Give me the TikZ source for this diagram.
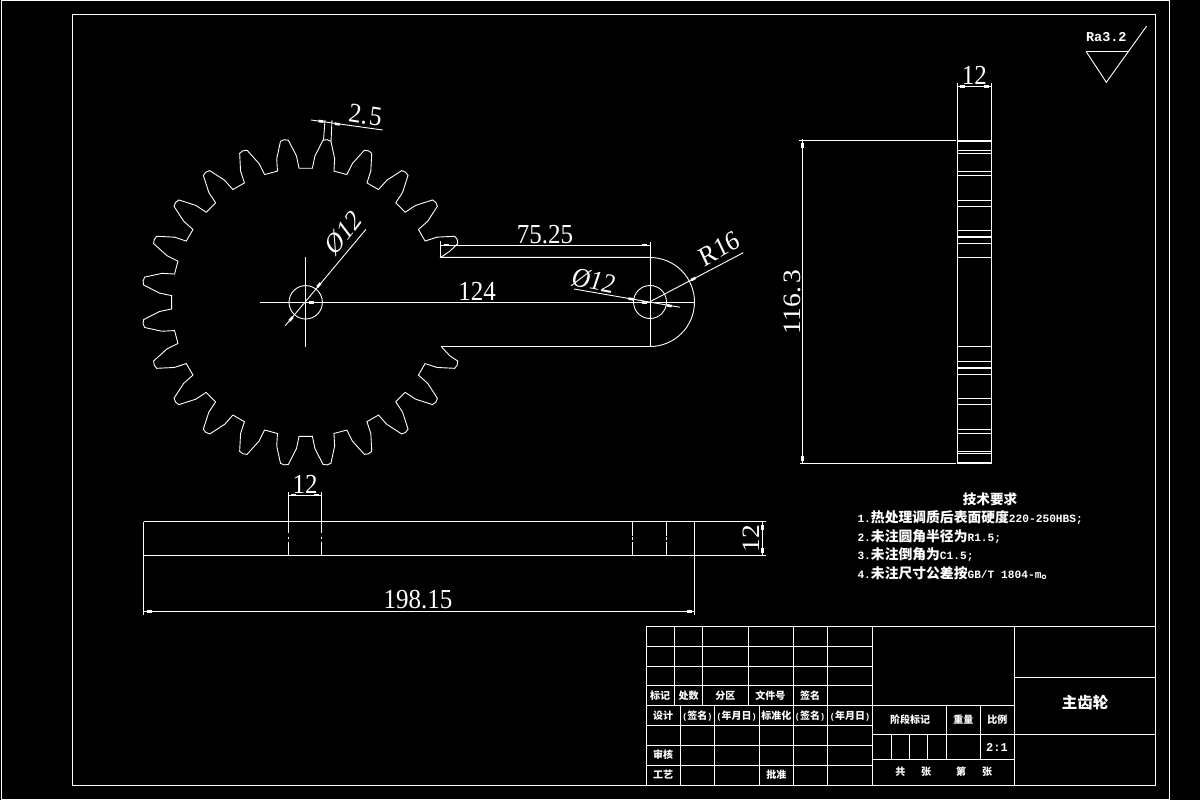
\documentclass[tikz,border=0pt]{standalone}
\usepackage{fontspec}
\setmainfont{Liberation Serif}
\newfontfamily\cjk{Noto Sans CJK SC}
\newfontfamily\monof{Liberation Mono}
\newcommand{\myblk}[3]{\draw[arrowblock] (#1,#2) ++(#3:-2.5) -- ++(#3:5);}
\newcommand{\cn}[1]{{\cjk\bfseries #1}}
\tikzset{
  cadline/.style={draw=white,line width=1pt,line cap=butt,line join=miter},
  arrowblock/.style={draw=white,line width=2.6pt},
  dimtext/.style={text=white,inner sep=0pt,yscale=1.1,font=\fontsize{25}{25}\selectfont},
  dimital/.style={dimtext,font=\fontsize{25}{25}\selectfont\itshape},
  tinycn/.style={text=white,inner sep=0pt,font=\fontsize{10}{11}\selectfont\cjk\bfseries},
  paren/.style={text=white,inner sep=0pt,font=\fontsize{8.4}{10}\selectfont\monof\bfseries},
  noteline/.style={text=white,inner sep=0pt,anchor=base west,font=\fontsize{11.2}{13}\selectfont\monof\bfseries},
}
\begin{document}
\begin{tikzpicture}[x=1pt,y=-1pt]
\useasboundingbox (0,0) rectangle (1200,800);
\fill[black] (0,0) rectangle (1200,800);
% frames
\draw[cadline] (1.5,1) rectangle (1169,799);
\draw[cadline] (72,15) rectangle (1155,785.3);
% gear
\coordinate (G) at (305.7,302.3);
\draw[cadline,line width=.9pt] (441,346.3) -- (450,356)
  \foreach \a in {22.5,37.5,...,322.5}{
    -- ([shift={(G)}]\a-1.4:163) -- ([shift={(G)}]\a:164) -- ([shift={(G)}]\a+1.4:163)
    -- ([shift={(G)}]\a+3.9:146.5) -- ([shift={(G)}]\a+4.65:134.2)
    -- ([shift={(G)}]\a+10.35:134.2) -- ([shift={(G)}]\a+11.1:146.5)
  }
  -- ([shift={(G)}]337.5-1.4:163) -- ([shift={(G)}]337.5:164) -- ([shift={(G)}]337.5+1.4:163)
  -- (450,251) -- (441,257.3) -- (650,257.3);
\draw[cadline] (441,346.3) -- (650,346.3);
\draw[cadline,line width=.9pt] (650,257.5) arc[start angle=-90,end angle=90,radius=44.5];
\draw[cadline,line width=.9pt] (G) circle[radius=16.7];
\draw[cadline,line width=.9pt] (650,302) circle[radius=16.5];
\draw[cadline] (260,302.3) -- (694,302.3);
\draw[cadline] (305.7,256.7) -- (305.7,346.7);
\draw[cadline] (650,241.7) -- (650,346.5);
\draw[cadline] (440.7,241.3) -- (440.7,257.3);
% 75.25
\draw[cadline] (440.7,245) -- (650,245);
\myblk{446}{245}{0}\myblk{644}{245}{0}
\node[dimtext] (d7525) at (545,234.5) {75.25};
% 124
\myblk{311}{302.3}{0}\myblk{644}{302.3}{0}
\node[dimtext] (d124) at (477,291.5) {124};
% gear bore
\draw[cadline,line width=.9pt] (285.3,325.7) -- (366,229.3);
\myblk{319}{285}{-50}\myblk{291}{319}{-50}
\node[dimital,rotate=50] (d12a) at (343,233) {Ø12};
% second bore
\draw[cadline,line width=.9pt] (574,289) -- (680,307.3);
\myblk{631}{299}{10}\myblk{669.3}{305.7}{10}
\node[dimital,rotate=-10] (d12b) at (593.5,280.5) {Ø12};
% R16
\draw[cadline,line width=.9pt] (650,301.7) -- (743.3,252.7);
\myblk{693.3}{279}{-27.7}
\node[dimtext,rotate=27.7] (r16) at (719.5,248.5) {R16};
% 2.5
\draw[cadline,line width=.9pt] (311,120) -- (382.7,130);
\draw[cadline,line width=.9pt] (323.5,140.7) -- (325,120);
\draw[cadline,line width=.9pt] (331,141.7) -- (332,120);
\myblk{321}{121.3}{8}\myblk{337.3}{124}{8}
\node[dimtext,rotate=-8] (d25) at (365.5,115.5) {2.\kern2pt 5};
% side view
\draw[cadline] (957.3,83) -- (957.3,463.5);
\draw[cadline] (991.7,83) -- (991.7,463.5);
\foreach \yy in {140,141,150.3,153.3,171.7,175.3,200.3,206.3,230.3,236.5,237.5,243.3,257.3,346.3,361.3,367.3,368.7,374.3,398.3,404.3,429.3,433.3,451.3,453.3,462.7,463.5}
  \draw[cadline] (957.3,\yy) -- (991.7,\yy);
\draw[cadline] (799,140.3) -- (956,140.3);
\draw[cadline] (800,463.3) -- (956,463.3);
\draw[cadline] (802.3,139) -- (802.3,464);
\myblk{802.3}{145.7}{90}\myblk{802.3}{458}{90}
\node[dimtext,rotate=90] (d1163) at (792,302) {116.\kern3pt 3};
\draw[cadline] (957.3,86.3) -- (991.7,86.3);
\myblk{962.7}{86.3}{0}\myblk{986}{86.3}{0}
\node[dimtext] (d12r) at (974.3,75.5) {12};
% roughness
\draw[cadline,line width=.9pt] (1086,51.3) -- (1128.3,51.3);
\draw[cadline,line width=.9pt] (1086,51.3) -- (1106.3,82.3) -- (1146.7,26);
\node[text=white,inner sep=0pt,font=\fontsize{13.5}{15}\selectfont\monof\bfseries] (ra) at (1106.3,36.7) {Ra3.2};
% bottom view
\draw[cadline] (143.5,521.7) -- (765.7,521.7);
\draw[cadline] (143.5,555.3) -- (765.7,555.3);
\draw[cadline] (143.5,521.7) -- (143.5,615.3);
\draw[cadline] (694.3,521.7) -- (694.3,615.3);
\foreach \xx in {288.4,321.6}{
  \draw[cadline] (\xx,492) -- (\xx,533.3);
  \draw[cadline] (\xx,536.7) -- (\xx,539.3);
  \draw[cadline] (\xx,541.7) -- (\xx,555.3);
}
\foreach \xx in {632.3,666.3}{
  \draw[cadline] (\xx,521.7) -- (\xx,535.5);
  \draw[cadline] (\xx,536.7) -- (\xx,540);
  \draw[cadline] (\xx,541.7) -- (\xx,555.3);
}
\draw[cadline] (288.4,495) -- (321.6,495);
\myblk{293.5}{495}{0}\myblk{316}{495}{0}
\node[dimtext] (d12h) at (305,484.7) {12};
\draw[cadline] (143.5,611.3) -- (694.3,611.3);
\myblk{149}{611.3}{0}\myblk{689}{611.3}{0}
\node[dimtext] (d198) at (418,600) {198.15};
\draw[cadline] (762.3,520.5) -- (762.3,556);
\myblk{762.3}{527}{90}\myblk{762.3}{550}{90}
\node[dimtext,rotate=90] (d12v) at (751.5,538.5) {12};
% technical notes
\node[text=white,inner sep=0pt,font=\fontsize{13.6}{15}\selectfont\cjk\bfseries] (tt) at (990,499.3) {技术要求};
\node[noteline] (n1) at (857.3,522) {1.\cn{\fontsize{13.8}{15}\selectfont 热处理调质后表面硬度}220-250HBS;};
\node[noteline] (n2) at (857.3,541) {2.\cn{\fontsize{13.8}{15}\selectfont 未注圆角半径为}R1.5;};
\node[noteline] (n3) at (857.3,559.5) {3.\cn{\fontsize{13.8}{15}\selectfont 未注倒角为}C1.5;};
\node[noteline] (n4) at (857.3,578) {4.\cn{\fontsize{13.8}{15}\selectfont 未注尺寸公差按}GB/T 1804-m\cn{\fontsize{13.8}{15}\selectfont 。}};
% title block
\draw[cadline] (646.3,626.3) rectangle (1155,785.3);
\foreach \yy in {646.3,666.3,685.7,705.3,725.3,745.3,765.3}
  \draw[cadline] (646.3,\yy) -- (872.3,\yy);
\foreach \xx in {674.3,702.3,748.3,793.7,827.3}
  \draw[cadline] (\xx,626.3) -- (\xx,705.3);
\foreach \xx in {680.3,714.3,759.3,793.7,827.3}
  \draw[cadline] (\xx,705.3) -- (\xx,785.3);
\draw[cadline] (872.3,626.3) -- (872.3,785.3);
\draw[cadline] (1014.3,626.3) -- (1014.3,785.3);
\draw[cadline] (1014.3,677.3) -- (1155,677.3);
\draw[cadline] (872.3,734.3) -- (1155,734.3);
\draw[cadline] (872.3,705.3) -- (1014.3,705.3);
\draw[cadline] (872.3,759.3) -- (1014.3,759.3);
\foreach \xx in {946.3,980.3}
  \draw[cadline] (\xx,705.3) -- (\xx,759.3);
\foreach \xx in {891.3,909.3,927.3}
  \draw[cadline] (\xx,734.3) -- (\xx,759.3);
\node[tinycn] (t1) at (660,696) {标记};
\node[tinycn] (t2) at (688.7,696) {处数};
\node[tinycn] (t3) at (725.3,696) {分区};
\node[tinycn] (t4) at (770.3,696) {文件号};
\node[tinycn] (t5) at (810,696) {签名};
\node[tinycn] (t6) at (663,716) {设计};
\node[paren] (t7) at (697.3,716) {(\cn{\fontsize{10}{11}\selectfont 签名})};
\node[paren] (t8) at (736.7,716) {(\cn{\fontsize{10}{11}\selectfont 年月日})};
\node[tinycn] (t9) at (776.3,716) {标准化};
\node[paren] (t10) at (810,716) {(\cn{\fontsize{10}{11}\selectfont 签名})};
\node[paren] (t11) at (850,716) {(\cn{\fontsize{10}{11}\selectfont 年月日})};
\node[tinycn] (t12) at (663,755) {审核};
\node[tinycn] (t13) at (663,775) {工艺};
\node[tinycn] (t14) at (776.3,775) {批准};
\node[tinycn] (t15) at (910,720) {阶段标记};
\node[tinycn] (t16) at (963.3,720) {重量};
\node[tinycn] (t17) at (997.3,720) {比例};
\node[text=white,inner sep=0pt,font=\fontsize{12}{14}\selectfont\monof\bfseries] (t18) at (997,747) {2:1};
\node[tinycn] (t19) at (900.3,772) {共};
\node[tinycn] (t20) at (926,772) {张};
\node[tinycn] (t21) at (961,772) {第};
\node[tinycn] (t22) at (987,772) {张};
\node[text=white,inner sep=0pt,font=\fontsize{15.5}{17}\selectfont\cjk\bfseries] (t23) at (1085,703) {主齿轮};
\end{tikzpicture}
\end{document}
